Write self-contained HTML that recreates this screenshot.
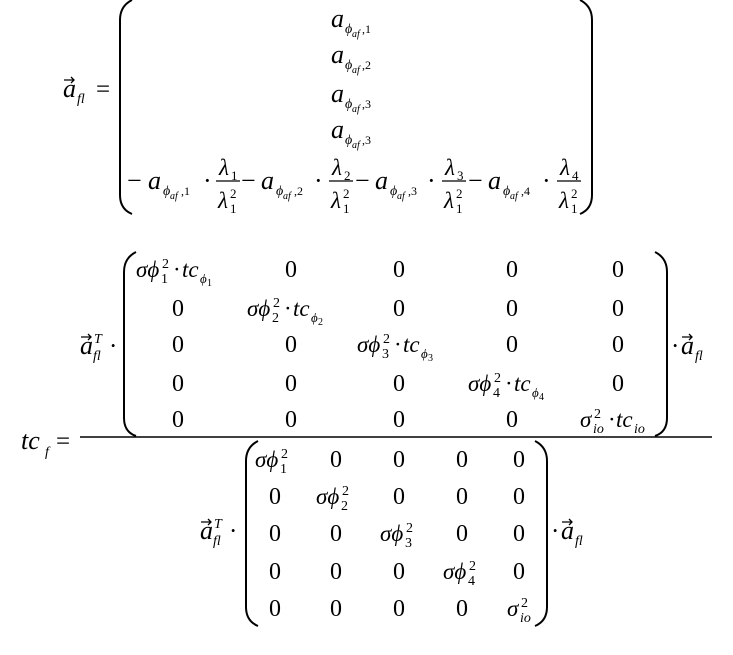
<!DOCTYPE html>
<html><head><meta charset="utf-8"><style>
html,body{margin:0;padding:0;background:#fff;}
svg{display:block;font-family:"Liberation Serif",serif;}
.i{font-style:italic}
</style></head><body>
<svg width="733" height="655" viewBox="0 0 733 655" xmlns="http://www.w3.org/2000/svg" fill="#000">
<defs>
<g id="vec"><path d="M1,-17 L11,-17 M8,-20 L11,-17 L8,-14" stroke="#000" stroke-width="1.3" fill="none"/></g>
</defs>
<g stroke="#000" stroke-width="2" fill="none">
<path d="M132,0 Q120,6 120,20 L120,195 Q120,209 132,214"/>
<path d="M580,0 Q592,6 592,20 L592,195 Q592,209 580,214"/>
<path d="M136,252 Q124,258 124,272 L124,418 Q124,432 136,436"/>
<path d="M655,252 Q667,258 667,272 L667,418 Q667,432 655,436"/>
<path d="M258,441 Q246,447 246,461 L246,607 Q246,621 258,626"/>
<path d="M535,441 Q547,447 547,461 L547,607 Q547,621 535,626"/>
<path d="M80,437 L712,437" stroke-width="1.5"/>
<path d="M216,181 L240,181 M329,181 L353,181 M442,181 L466,181 M557,181 L581,181" stroke-width="1.2"/>
</g>

<use href="#vec" x="63" y="97"/>
<text x="63" y="97" class="i" font-size="26">a</text>
<text x="77" y="103" class="i" font-size="14">fl</text>
<text x="96" y="97" font-size="25">=</text>

<g font-size="26">
<text x="331" y="27" class="i">a</text><text x="345" y="33" class="i" font-size="14">ϕ</text><text x="352" y="37" class="i" font-size="10">af</text><text x="362" y="33" font-size="12">,1</text>
<text x="331" y="63" class="i">a</text><text x="345" y="69" class="i" font-size="14">ϕ</text><text x="352" y="73" class="i" font-size="10">af</text><text x="362" y="69" font-size="12">,2</text>
<text x="331" y="102" class="i">a</text><text x="345" y="108" class="i" font-size="14">ϕ</text><text x="352" y="112" class="i" font-size="10">af</text><text x="362" y="108" font-size="12">,3</text>
<text x="331" y="138" class="i">a</text><text x="345" y="144" class="i" font-size="14">ϕ</text><text x="352" y="148" class="i" font-size="10">af</text><text x="362" y="144" font-size="12">,3</text>
</g>

<g font-size="26">
<text x="127" y="189">−</text><text x="148" y="189" class="i">a</text><text x="163" y="195" class="i" font-size="14">ϕ</text><text x="170" y="199" class="i" font-size="10">af</text><text x="181" y="195" font-size="12">,1</text><text x="203" y="189">·</text>
<text x="241" y="189">−</text><text x="261" y="189" class="i">a</text><text x="276" y="195" class="i" font-size="14">ϕ</text><text x="283" y="199" class="i" font-size="10">af</text><text x="294" y="195" font-size="12">,2</text><text x="314" y="189">·</text>
<text x="355" y="189">−</text><text x="375" y="189" class="i">a</text><text x="390" y="195" class="i" font-size="14">ϕ</text><text x="397" y="199" class="i" font-size="10">af</text><text x="408" y="195" font-size="12">,3</text><text x="427" y="189">·</text>
<text x="468" y="189">−</text><text x="488" y="189" class="i">a</text><text x="503" y="195" class="i" font-size="14">ϕ</text><text x="510" y="199" class="i" font-size="10">af</text><text x="521" y="195" font-size="12">,4</text><text x="542" y="189">·</text>
</g>
<g font-size="23" class="i">
<text x="219" y="175">λ</text><text x="231" y="180" font-size="13" font-style="normal">1</text>
<text x="218" y="208">λ</text><text x="230" y="213" font-size="13" font-style="normal">1</text><text x="230" y="198" font-size="13" font-style="normal">2</text>
<text x="332" y="175">λ</text><text x="344" y="180" font-size="13" font-style="normal">2</text>
<text x="331" y="208">λ</text><text x="343" y="213" font-size="13" font-style="normal">1</text><text x="343" y="198" font-size="13" font-style="normal">2</text>
<text x="445" y="175">λ</text><text x="457" y="180" font-size="13" font-style="normal">3</text>
<text x="444" y="208">λ</text><text x="456" y="213" font-size="13" font-style="normal">1</text><text x="456" y="198" font-size="13" font-style="normal">2</text>
<text x="560" y="175">λ</text><text x="572" y="180" font-size="13" font-style="normal">4</text>
<text x="559" y="208">λ</text><text x="571" y="213" font-size="13" font-style="normal">1</text><text x="571" y="198" font-size="13" font-style="normal">2</text>
</g>

<text x="21" y="449" class="i" font-size="26">tc</text>
<text x="45" y="456" class="i" font-size="14">f</text>
<text x="56" y="449" font-size="25">=</text>

<use href="#vec" x="80" y="354"/>
<text x="80" y="354" class="i" font-size="26">a</text>
<text x="94" y="343" class="i" font-size="14">T</text>
<text x="93" y="360" class="i" font-size="14">fl</text>
<text x="109" y="354" font-size="25">·</text>
<text x="671" y="354" font-size="25">·</text>
<use href="#vec" x="681" y="354"/>
<text x="681" y="354" class="i" font-size="26">a</text>
<text x="695" y="360" class="i" font-size="14">fl</text>

<g font-size="24" text-anchor="middle">
<text x="291" y="277">0</text><text x="399" y="277">0</text><text x="512" y="277">0</text><text x="618" y="277">0</text>
<text x="178" y="316">0</text><text x="399" y="316">0</text><text x="512" y="316">0</text><text x="618" y="316">0</text>
<text x="178" y="352">0</text><text x="291" y="352">0</text><text x="512" y="352">0</text><text x="618" y="352">0</text>
<text x="178" y="391">0</text><text x="291" y="391">0</text><text x="399" y="391">0</text><text x="618" y="391">0</text>
<text x="178" y="427">0</text><text x="291" y="427">0</text><text x="399" y="427">0</text><text x="512" y="427">0</text>
</g>
<g font-size="23">
<g transform="translate(136,277)"><text class="i">σϕ</text><text x="26" y="-9" font-size="14">2</text><text x="25" y="6" font-size="14">1</text><text x="37">·</text><text x="46" class="i">tc</text><text x="64" y="6" class="i" font-size="13">ϕ</text><text x="71" y="9" font-size="10">1</text></g>
<g transform="translate(247,316)"><text class="i">σϕ</text><text x="26" y="-9" font-size="14">2</text><text x="25" y="6" font-size="14">2</text><text x="37">·</text><text x="46" class="i">tc</text><text x="64" y="6" class="i" font-size="13">ϕ</text><text x="71" y="9" font-size="10">2</text></g>
<g transform="translate(357,352)"><text class="i">σϕ</text><text x="26" y="-9" font-size="14">2</text><text x="25" y="6" font-size="14">3</text><text x="37">·</text><text x="46" class="i">tc</text><text x="64" y="6" class="i" font-size="13">ϕ</text><text x="71" y="9" font-size="10">3</text></g>
<g transform="translate(468,391)"><text class="i">σϕ</text><text x="26" y="-9" font-size="14">2</text><text x="25" y="6" font-size="14">4</text><text x="37">·</text><text x="46" class="i">tc</text><text x="64" y="6" class="i" font-size="13">ϕ</text><text x="71" y="9" font-size="10">4</text></g>
<g transform="translate(580,427)"><text class="i">σ</text><text x="14" y="-9" font-size="14">2</text><text x="13" y="6" class="i" font-size="14">io</text><text x="28">·</text><text x="36" class="i">tc</text><text x="54" y="6" class="i" font-size="14">io</text></g>
</g>

<use href="#vec" x="200" y="539"/>
<text x="200" y="539" class="i" font-size="26">a</text>
<text x="214" y="528" class="i" font-size="14">T</text>
<text x="213" y="545" class="i" font-size="14">fl</text>
<text x="229" y="539" font-size="25">·</text>
<text x="551" y="539" font-size="25">·</text>
<use href="#vec" x="561" y="539"/>
<text x="561" y="539" class="i" font-size="26">a</text>
<text x="575" y="545" class="i" font-size="14">fl</text>

<g font-size="24" text-anchor="middle">
<text x="336" y="467">0</text><text x="399" y="467">0</text><text x="462" y="467">0</text><text x="519" y="467">0</text>
<text x="275" y="504">0</text><text x="399" y="504">0</text><text x="462" y="504">0</text><text x="519" y="504">0</text>
<text x="275" y="541">0</text><text x="336" y="541">0</text><text x="462" y="541">0</text><text x="519" y="541">0</text>
<text x="275" y="579">0</text><text x="336" y="579">0</text><text x="399" y="579">0</text><text x="519" y="579">0</text>
<text x="275" y="616">0</text><text x="336" y="616">0</text><text x="399" y="616">0</text><text x="462" y="616">0</text>
</g>
<g font-size="23">
<g transform="translate(255,467)"><text class="i">σϕ</text><text x="26" y="-9" font-size="14">2</text><text x="25" y="6" font-size="14">1</text></g>
<g transform="translate(316,504)"><text class="i">σϕ</text><text x="26" y="-9" font-size="14">2</text><text x="25" y="6" font-size="14">2</text></g>
<g transform="translate(380,541)"><text class="i">σϕ</text><text x="26" y="-9" font-size="14">2</text><text x="25" y="6" font-size="14">3</text></g>
<g transform="translate(443,579)"><text class="i">σϕ</text><text x="26" y="-9" font-size="14">2</text><text x="25" y="6" font-size="14">4</text></g>
<g transform="translate(507,616)"><text class="i">σ</text><text x="14" y="-9" font-size="14">2</text><text x="13" y="6" class="i" font-size="14">io</text></g>
</g>
</svg>
</body></html>
